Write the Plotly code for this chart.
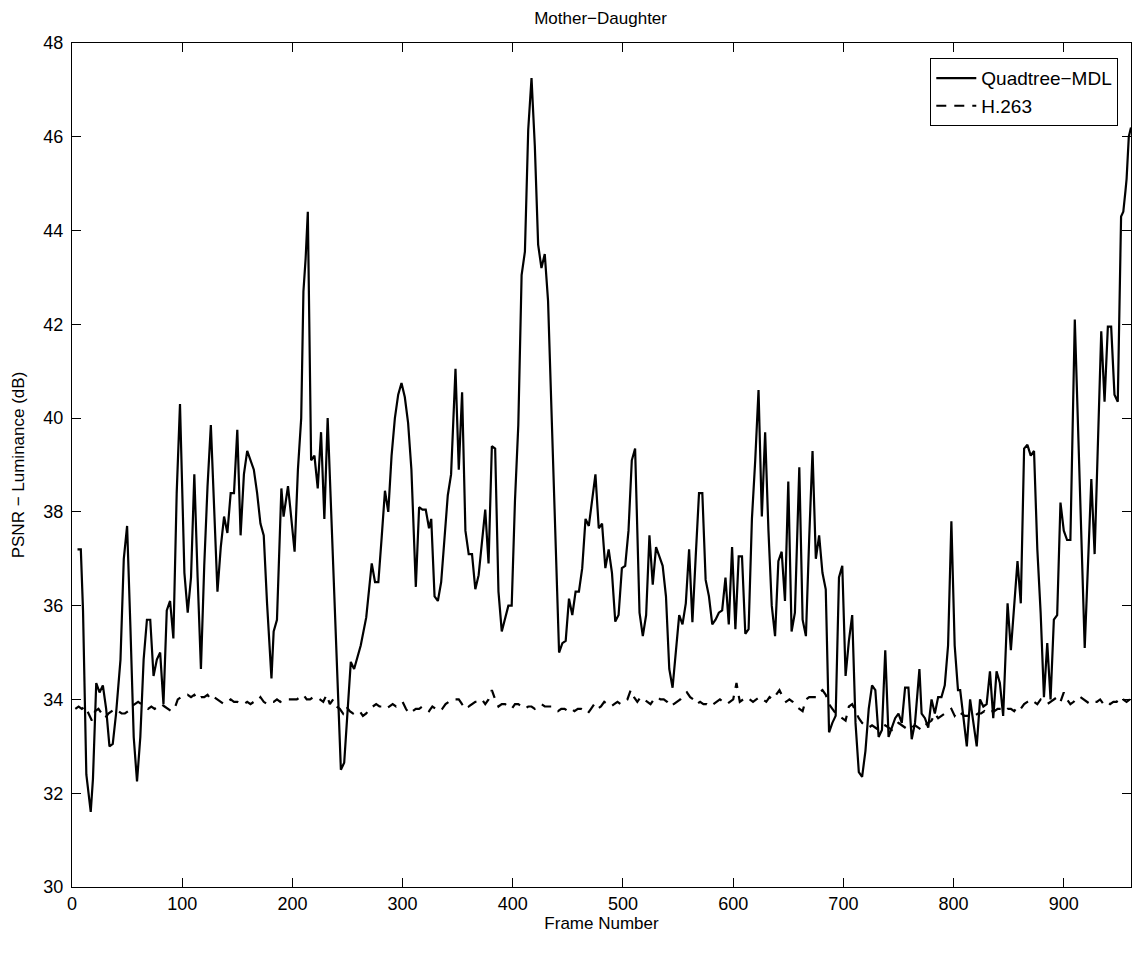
import plotly.graph_objects as go

# Quadtree-MDL PSNR (frame, dB)
quad_frames = [5, 8, 10, 13, 17, 19, 22, 25, 28, 31, 34, 37, 40, 44, 47, 50, 53, 56, 59, 62,
               65, 68, 71, 74, 77, 80, 83, 86, 89, 92, 95, 98, 102, 105, 108, 111, 114, 117, 120, 123,
               126, 129, 132, 135, 138, 141, 144, 147, 150, 153, 156, 159, 162, 165, 168, 171, 174, 177, 181, 183,
               186, 190, 192, 196, 198, 202, 205, 208, 210, 212, 214, 217, 220, 223, 226, 229, 232, 244, 247, 253,
               256, 259, 262, 267, 272, 275, 278, 281, 284, 287, 290, 293, 296, 299, 302, 305, 308, 312, 315, 318,
               321, 324, 326, 329, 332, 335, 338, 341, 344, 348, 351, 354, 357, 360, 363, 366, 369, 372, 375, 378,
               381, 384, 387, 390, 393, 396, 399, 402, 405, 408, 411, 414, 417, 420, 423, 426, 429, 432, 442, 445,
               448, 451, 454, 457, 460, 463, 466, 469, 472, 475, 478, 481, 484, 487, 490, 493, 496, 499, 502, 505,
               508, 511, 515, 518, 521, 524, 527, 530, 533, 536, 539, 542, 545, 548, 551, 554, 557, 560, 563, 566,
               569, 572, 575, 578, 581, 584, 587, 590, 593, 596, 599, 602, 605, 608, 611, 614, 617, 620, 623, 626,
               629, 632, 635, 638, 641, 644, 647, 650, 653, 656, 660, 663, 666, 669, 672, 675, 678, 681, 684, 687,
               690, 693, 696, 699, 702, 705, 708, 711, 714, 717, 720, 723, 726, 729, 732, 735, 738, 741, 744, 747,
               750, 753, 756, 759, 762, 765, 769, 771, 774, 777, 780, 783, 786, 789, 792, 795, 798, 801, 804, 806,
               809, 812, 815, 818, 821, 824, 827, 830, 833, 836, 839, 842, 845, 849, 852, 855, 858, 861, 864, 867,
               870, 873, 876, 879, 882, 885, 888, 891, 894, 897, 900, 903, 906, 910, 919, 925, 928, 934, 937, 940,
               943, 946, 949, 952, 954, 956, 957, 959, 961]
quad_psnr = [37.2, 37.2, 35.9, 32.4, 31.6, 32.3, 34.35, 34.15, 34.3, 33.8, 33.0, 33.05, 33.7, 34.85, 37.0, 37.7, 35.55, 33.2, 32.25, 33.2,
             34.85, 35.7, 35.7, 34.5, 34.85, 35.0, 33.9, 35.9, 36.1, 35.3, 38.4, 40.3, 36.7, 35.85, 36.6, 38.8, 36.6, 34.65, 36.85, 38.55,
             39.85, 38.05, 36.3, 37.25, 37.9, 37.55, 38.4, 38.4, 39.75, 37.5, 38.8, 39.3, 39.1, 38.9, 38.4, 37.75, 37.5, 36.05, 34.45, 35.45,
             35.7, 38.5, 37.9, 38.55, 38.1, 37.15, 38.9, 40.0, 42.7, 43.4, 44.4, 39.1, 39.2, 38.5, 39.7, 37.85, 40.0, 32.5, 32.65, 34.8,
             34.65, 34.9, 35.15, 35.75, 36.9, 36.5, 36.5, 37.45, 38.45, 38.0, 39.2, 40.0, 40.5, 40.75, 40.45, 39.9, 38.9, 36.4, 38.1, 38.05,
             38.05, 37.65, 37.85, 36.2, 36.1, 36.5, 37.35, 38.35, 38.8, 41.05, 38.9, 40.55, 37.6, 37.1, 37.1, 36.35, 36.65, 37.35, 38.05, 36.9,
             39.4, 39.35, 36.3, 35.45, 35.7, 36.0, 36.0, 38.25, 39.85, 43.05, 43.55, 46.15, 47.25, 45.8, 43.7, 43.2, 43.5, 42.5, 35.0, 35.2,
             35.25, 36.15, 35.8, 36.3, 36.3, 36.8, 37.85, 37.7, 38.25, 38.8, 37.65, 37.75, 36.8, 37.2, 36.7, 35.66, 35.8, 36.8, 36.85, 37.6,
             39.1, 39.35, 35.85, 35.35, 35.8, 37.5, 36.45, 37.25, 37.05, 36.85, 36.2, 34.65, 34.25, 35.0, 35.8, 35.6, 36.05, 37.2, 35.65, 37.05,
             38.4, 38.4, 36.55, 36.2, 35.6, 35.7, 35.85, 35.9, 36.6, 35.6, 37.25, 35.5, 37.05, 37.05, 35.4, 35.5, 37.85, 39.1, 40.6, 37.9,
             39.7, 37.6, 36.0, 35.35, 36.95, 37.15, 36.1, 38.65, 35.45, 35.85, 38.95, 35.7, 35.35, 37.45, 39.3, 37.0, 37.5, 36.7, 36.35, 33.3,
             33.5, 33.65, 36.6, 36.85, 34.5, 35.25, 35.8, 33.5, 32.45, 32.35, 32.9, 33.8, 34.3, 34.2, 33.2, 33.35, 35.05, 33.2, 33.4, 33.6,
             33.7, 33.5, 34.25, 34.25, 33.15, 33.5, 34.65, 33.7, 33.6, 33.4, 34.0, 33.7, 34.05, 34.05, 34.3, 35.15, 37.8, 35.15, 34.2, 34.2,
             33.6, 33.0, 34.0, 33.5, 33.0, 34.0, 33.85, 33.9, 34.6, 33.6, 34.6, 34.35, 33.65, 36.05, 35.05, 36.0, 36.95, 36.05, 39.35, 39.43,
             39.2, 39.3, 37.2, 35.85, 34.05, 35.2, 34.0, 35.7, 35.8, 38.2, 37.6, 37.4, 37.4, 42.1, 35.1, 38.7, 37.1, 41.85, 40.35, 41.95,
             41.95, 40.5, 40.35, 44.3, 44.4, 44.85, 45.1, 46.0, 46.2]

# H.263 PSNR, sampled every 3 frames starting at frame 3
h263_frames = list(range(3, 962, 3))
h263_psnr = [33.8, 33.85, 33.8, 33.85, 33.7, 33.55, 33.75, 33.8, 33.7, 33.6, 33.7, 33.75, 33.8, 33.75, 33.7, 33.7, 33.75, 33.85, 33.9, 33.95,
             33.9, 33.85, 33.8, 33.85, 33.8, 33.85, 33.9, 33.85, 33.8, 33.75, 33.8, 34.0, 34.05, 34.05, 34.1, 34.05, 34.1, 34.0, 34.05, 34.05,
             34.1, 34.0, 34.05, 34.0, 33.95, 33.9, 33.95, 34.0, 33.95, 33.95, 33.9, 33.9, 33.95, 33.9, 33.95, 33.95, 34.05, 33.95, 33.9, 33.95,
             33.95, 34.0, 33.95, 34.0, 34.0, 34.0, 34.0, 34.0, 34.05, 34.1, 34.0, 34.0, 34.05, 34.05, 34.0, 33.95, 34.1, 33.9, 34.0, 33.85,
             33.8, 33.7, 33.85, 33.75, 33.7, 33.75, 33.75, 33.65, 33.7, 33.8, 33.85, 33.9, 33.85, 33.85, 33.8, 33.85, 33.9, 33.85, 33.9, 33.95,
             33.8, 33.7, 33.75, 33.8, 33.8, 33.85, 33.8, 33.75, 33.85, 33.8, 33.75, 33.8, 33.9, 33.95, 33.95, 34.0, 34.0, 33.9, 33.95, 33.85,
             33.9, 33.95, 33.95, 34.0, 33.9, 34.0, 34.2, 34.0, 33.85, 33.9, 33.9, 33.85, 33.8, 33.9, 33.9, 33.85, 33.8, 33.85, 33.85, 33.8,
             33.85, 33.9, 33.85, 33.85, 33.85, 33.8, 33.75, 33.8, 33.8, 33.75, 33.8, 33.75, 33.8, 33.8, 33.75, 33.7, 33.8, 33.9, 33.8, 33.85,
             33.95, 33.9, 33.85, 33.9, 33.95, 33.9, 33.95, 34.0, 34.2, 34.05, 33.95, 34.05, 34.0, 33.95, 33.9, 34.0, 34.05, 34.0, 34.0, 33.95,
             33.85, 33.9, 33.95, 34.0, 34.1, 34.15, 34.05, 34.0, 33.9, 33.95, 33.9, 33.9, 33.85, 33.9, 33.95, 34.0, 33.95, 33.9, 33.95, 34.0,
             34.35, 33.95, 34.0, 34.05, 34.0, 33.95, 34.0, 34.05, 34.0, 33.95, 34.05, 34.0, 34.1, 34.2, 34.05, 33.95, 34.0, 33.95, 33.85, 33.8,
             33.75, 34.0, 34.05, 34.05, 34.05, 34.15, 34.2, 34.1, 33.9, 33.8, 33.7, 33.65, 33.6, 33.55, 33.85, 33.9, 33.75, 33.6, 33.5, 33.45,
             33.4, 33.45, 33.4, 33.35, 33.4, 33.45, 33.4, 33.35, 33.45, 33.5, 33.45, 33.4, 33.35, 33.4, 33.45, 33.4, 33.35, 33.45, 33.5, 33.55,
             33.7, 33.6, 33.65, 33.7, 33.75, 33.8, 33.65, 33.75, 33.7, 33.65, 33.65, 33.7, 33.65, 33.7, 33.7, 33.75, 33.7, 33.75, 33.75, 33.8,
             33.8, 33.75, 33.8, 33.8, 33.75, 33.85, 33.8, 33.9, 33.95, 34.0, 33.95, 33.9, 34.0, 33.95, 33.9, 33.95, 34.0, 34.05, 33.95, 34.15,
             34.0, 33.9, 33.95, 34.05, 34.05, 34.0, 33.95, 33.9, 33.95, 33.95, 34.0, 33.9, 33.95, 33.9, 33.95, 33.95, 34.05, 34.0, 33.95, 34.0]

x_ticks = [0, 100, 200, 300, 400, 500, 600, 700, 800, 900]
y_ticks = [30, 32, 34, 36, 38, 40, 42, 44, 46, 48]

FONT = "Liberation Sans, Arial, Helvetica, sans-serif"

fig = go.Figure()
fig.add_trace(go.Scatter(x=quad_frames, y=quad_psnr, mode="lines", name="Quadtree\u2212MDL",
                         line=dict(color="black", width=2.2)))
fig.add_trace(go.Scatter(x=h263_frames, y=h263_psnr[:len(h263_frames)], mode="lines", name="H.263",
                         line=dict(color="black", width=2.2, dash="10px,8px")))

axis_common = dict(showline=True, linecolor="black", linewidth=1, mirror="ticks", ticks="inside",
                   ticklen=9, tickcolor="black", tickwidth=1, showgrid=False, zeroline=False,
                   tickfont=dict(family=FONT, size=18, color="black"))

fig.update_layout(
    width=1144, height=953,
    margin=dict(l=72, r=13, t=43, b=66),
    paper_bgcolor="white", plot_bgcolor="white",
    font=dict(family=FONT, size=17, color="black"),
    title=dict(text="Mother\u2212Daughter", x=0.525, xanchor="center", y=0.987, yanchor="top",
               font=dict(family=FONT, size=17, color="black")),
    xaxis=dict(range=[0, 961], tickvals=x_ticks, ticktext=[str(v) for v in x_ticks],
               title=dict(text="Frame Number", font=dict(family=FONT, size=17), standoff=2),
               **axis_common),
    yaxis=dict(range=[30, 48], tickvals=y_ticks, ticktext=[str(v) for v in y_ticks],
               title=dict(text="PSNR \u2212 Luminance (dB)", font=dict(family=FONT, size=17), standoff=14),
               ticklabelstandoff=4,
               **axis_common),
    legend=dict(x=0.988, y=0.982, xanchor="right", yanchor="top", bgcolor="white",
                bordercolor="black", borderwidth=1, font=dict(family=FONT, size=19),
                itemwidth=40, tracegroupgap=0, entrywidth=185, entrywidthmode="pixels"),
    showlegend=True,
)

fig.write_html("out.html")
